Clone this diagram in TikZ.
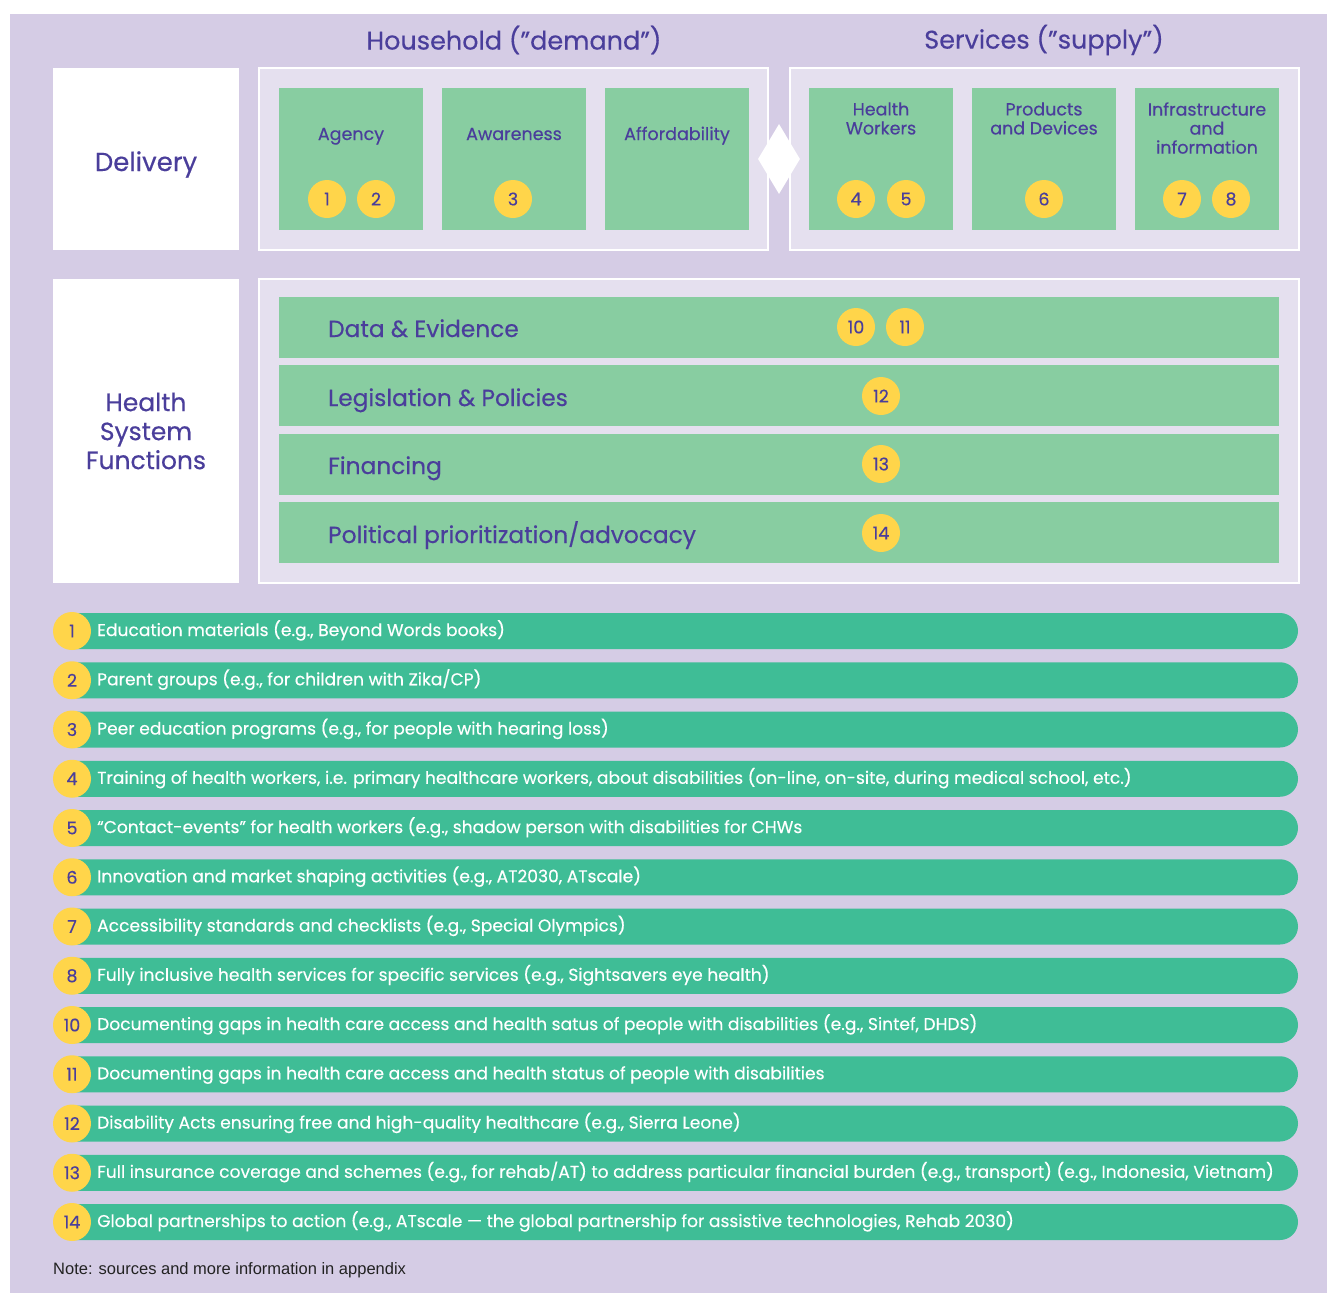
\documentclass[tikz,border=0pt]{standalone}
\usepackage{fontspec}
\setmainfont{Poppins}[FakeBold=0.35]
\newfontfamily\notefont{Liberation Sans}
\usetikzlibrary{shapes.geometric,shapes.misc}
\definecolor{bgl}{HTML}{D5CCE5}
\definecolor{panel}{HTML}{E5E0EF}
\definecolor{lgreen}{HTML}{88CDA1}
\definecolor{dgreen}{HTML}{3FBD96}
\definecolor{yel}{HTML}{FFD54A}
\definecolor{ink}{HTML}{4A3E9B}
\definecolor{notegray}{HTML}{222222}
\tikzset{
  box/.style={anchor=north west, inner sep=0, outer sep=0},
  whitebox/.style={box, fill=white},
  panelbox/.style={box, fill=panel, draw=white, line width=1.5},
  gbox/.style={box, fill=lgreen, minimum width=144, minimum height=142},
  glabel/.style={text=ink, align=center, inner sep=0, font=\fontsize{17.5}{19}\selectfont},
  dot/.style={circle, fill=yel, minimum size=38, inner sep=0, text=ink, font=\fontsize{17.5}{17.5}\selectfont},
  ttl/.style={text=ink, inner sep=0, font=\fontsize{25.5}{25.5}\selectfont},
  bigl/.style={text=ink, align=center, inner sep=0, font=\fontsize{26}{29}\selectfont},
  hbar/.style={box, fill=lgreen, minimum width=1000, minimum height=61},
  hlabel/.style={anchor=base west, text=ink, inner sep=0, font=\fontsize{23.3}{23.3}\selectfont},
  lbar/.style={rounded rectangle, rounded rectangle west arc=none, fill=dgreen, minimum width=1226, minimum height=36, anchor=west, inner sep=0, outer sep=0},
  ltext/.style={anchor=base west, text=white, inner sep=0, font=\fontsize{17.1}{17.1}\selectfont},
}
\newcommand{\litem}[3]{%
  \node[lbar] (bar#2) at (72,{631+49.25*(#1-1)}) {};
  \node[dot] (n#2) at (72,{631+49.25*(#1-1)}) {#2};
  \node[ltext] (t#2) at (97,{636+49.25*(#1-1)}) {#3};
}
\begin{document}
\begin{tikzpicture}[x=1pt,y=-1pt]
\useasboundingbox (0,0) rectangle (1327,1293);
\fill[white] (0,0) rectangle (1327,1293);
\fill[bgl] (10,14) rectangle (1327,1293);

% titles
\node[ttl] (hh) at (514,40) {Household (”demand”)};
\node[ttl] (sv) at (1044,40) {Services (”supply”)};

% delivery row
\node[whitebox, minimum width=186, minimum height=182] (deliv) at (53,68) {};
\node[bigl, anchor=base] (delivl) at (146,171) {Delivery};
\node[panelbox, minimum width=509, minimum height=182] (hhp) at (259,68) {};
\node[panelbox, minimum width=509, minimum height=182] (svp) at (790,68) {};

\node[gbox] (agency) at (279,88) {};
\node[gbox] (aware) at (442,88) {};
\node[gbox] (afford) at (605,88) {};
\node[gbox] (hw) at (809,88) {};
\node[gbox] (prod) at (972,88) {};
\node[gbox] (infra) at (1135,88) {};

\node[glabel, anchor=base] at (351,140) {Agency};
\node[glabel, anchor=base] at (514,140) {Awareness};
\node[glabel, anchor=base] at (677,140) {Affordability};
\node[glabel] at (881,118.5) {Health\\Workers};
\node[glabel] at (1044,118.5) {Products\\and Devices};
\node[glabel] at (1207,128) {Infrastructure\\and\\information};

\node[dot] (d1) at (327,199) {1};
\node[dot] (d2) at (376,199) {2};
\node[dot] (d3) at (513,199) {3};
\node[dot] (d4) at (856,199) {4};
\node[dot] (d5) at (906,199) {5};
\node[dot] (d6) at (1044,199) {6};
\node[dot] (d7) at (1182,199) {7};
\node[dot] (d8) at (1231,199) {8};

\node[diamond, fill=white, inner sep=0, minimum width=42, minimum height=70] (dia) at (779,159) {};

% health system functions
\node[whitebox, minimum width=186, minimum height=304] (hsf) at (53,279) {};
\node[bigl, font=\fontsize{25}{29}\selectfont] (hsfl) at (146,431) {Health\\System\\Functions};
\node[panelbox, minimum width=1040, minimum height=304] (hsfp) at (259,279) {};

\node[hbar] (data) at (279,297) {};
\node[hbar] (legis) at (279,365) {};
\node[hbar] (fin) at (279,434) {};
\node[hbar] (pol) at (279,502) {};
\node[hlabel] at (328,337) {Data \& Evidence};
\node[hlabel] at (328,406) {Legislation \& Policies};
\node[hlabel] at (328,474) {Financing};
\node[hlabel] at (328,543) {Political prioritization/advocacy};

\node[dot] (d10) at (856,327) {10};
\node[dot] (d11) at (905,327) {11};
\node[dot] (d12) at (881,396) {12};
\node[dot] (d13) at (881,464) {13};
\node[dot] (d14) at (881,533) {14};

% list
\litem{1}{1}{Education materials (e.g., Beyond Words books)}
\litem{2}{2}{Parent groups (e.g., for children with Zika/CP)}
\litem{3}{3}{Peer education programs (e.g., for people with hearing loss)}
\litem{4}{4}{Training of health workers, i.e. primary healthcare workers, about disabilities (on-line, on-site, during medical school, etc.)}
\litem{5}{5}{“Contact-events” for health workers (e.g., shadow person with disabilities for CHWs}
\litem{6}{6}{Innovation and market shaping activities (e.g., AT2030, ATscale)}
\litem{7}{7}{Accessibility standards and checklists (e.g., Special Olympics)}
\litem{8}{8}{Fully inclusive health services for specific services (e.g., Sightsavers eye health)}
\litem{9}{10}{Documenting gaps in health care access and health satus of people with disabilities (e.g., Sintef, DHDS)}
\litem{10}{11}{Documenting gaps in health care access and health status of people with disabilities}
\litem{11}{12}{Disability Acts ensuring free and high-quality healthcare (e.g., Sierra Leone)}
\litem{12}{13}{Full insurance coverage and schemes (e.g., for rehab/AT) to address particular financial burden (e.g., transport) (e.g., Indonesia, Vietnam)}
\litem{13}{14}{Global partnerships to action (e.g., ATscale — the global partnership for assistive technologies, Rehab 2030)}

\node[anchor=west, inner sep=0, text=notegray, font=\notefont\fontsize{16.5}{16.5}\selectfont] (note) at (53,1270) {Note: sources and more information in appendix};
\end{tikzpicture}
\end{document}
